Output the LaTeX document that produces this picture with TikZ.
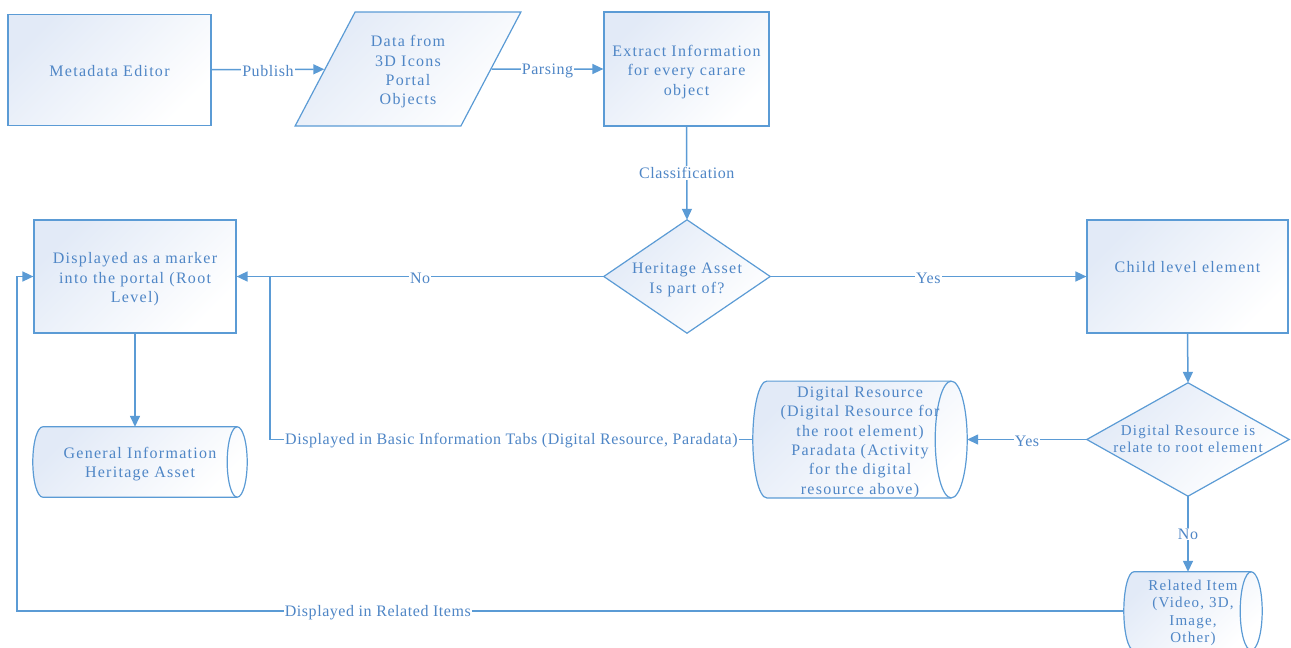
\documentclass[tikz,border=0pt]{standalone}
\usepackage{fontspec}
\setmainfont{Liberation Serif}
\newfontfamily\boxfont[LetterSpace=8]{Liberation Serif}
\newfontfamily\lblfont[LetterSpace=3.5]{Liberation Serif}
\usetikzlibrary{arrows.meta,shapes.geometric,calc,backgrounds}
\definecolor{ln}{RGB}{91,155,213}
\definecolor{tx}{RGB}{79,134,198}
\definecolor{sh}{RGB}{226,234,247}

% centred block of lines, shifted vertically without changing its reported size
\newcommand\lines[2][-3pt]{\raisebox{#1}[\height][\depth]{\begin{tabular}{@{}c@{}}#2\end{tabular}}}

\tikzset{
  shapefill/.style={draw=ln, line width=1.2pt, left color=sh, right color=white, shading angle=45},
  boxtext/.style={text=tx, font=\boxfont\fontsize{16}{19.4}\selectfont},
  smalltext/.style={text=tx, font=\boxfont\fontsize{15}{17.4}\selectfont},
  proc/.style={rectangle, shapefill, boxtext, inner sep=0pt},
  inout/.style={trapezium, shapefill, boxtext, inner sep=0pt,
    trapezium left angle=61.5, trapezium right angle=118.5, trapezium stretches=true},
  plain/.style={rectangle, inner sep=0pt},
  conn/.style={draw=ln, line width=1.5pt},
  arr/.style={conn, -{Triangle[length=11pt,width=10pt]}},
  lbl/.style={fill=white, text=tx, inner sep=1pt, font=\lblfont\fontsize{16}{18}\selectfont},
  hlbl/.style={lbl, yshift=-1.5pt},
}

% stored-data symbol drawn around a named node: #1 node, #2 left bulge, #3 right half-ellipse
\newcommand\storedata[3]{%
  \path[shapefill] let \p1=($(#1.north)-(#1.south)$), \n1={0.5*\y1} in
    ($(#1.north west)+(#2,0)$) -- ($(#1.north east)+(-#3,0)$)
    arc[start angle=90, end angle=-90, x radius=#3, y radius=\n1]
    -- ($(#1.south west)+(#2,0)$)
    arc[start angle=270, end angle=90, x radius=#2, y radius=\n1] -- cycle;
  \draw[draw=ln, line width=1.2pt] let \p1=($(#1.north)-(#1.south)$), \n1={0.5*\y1} in
    ($(#1.north east)+(-#3,0)$)
    arc[start angle=90, end angle=270, x radius=#3, y radius=\n1];
}
% decision symbol drawn on the four side anchors of a named node
\newcommand\decision[1]{%
  \path[shapefill] (#1.north) -- (#1.east) -- (#1.south) -- (#1.west) -- cycle;
}

\begin{document}
\begin{tikzpicture}[x=1pt, y=1pt]
\useasboundingbox (0,0) rectangle (1291,-648);

% top row
\node[proc, minimum width=203pt, minimum height=111pt] (me) at (109.5,-70) {\lines{Metadata Editor}};
\node[inout, minimum width=226pt, minimum height=114pt] (data) at (408,-69)
  {\lines{Data from\\3D Icons\\Portal\\Objects}};
\node[proc, minimum width=165pt, minimum height=114pt] (ex) at (686.5,-69)
  {\lines{Extract Information\\for every carare\\object}};

% middle row
\node[plain, boxtext, minimum width=166pt, minimum height=113pt] (d1) at (687,-276.5)
  {\lines{Heritage Asset\\Is part of?}};
\node[proc, minimum width=202pt, minimum height=113pt] (disp) at (135,-276.5)
  {\lines{Displayed as a marker\\into the portal (Root\\Level)}};
\node[proc, minimum width=201pt, minimum height=113pt] (child) at (1187.5,-276.5)
  {\lines[8pt]{Child level element}};

% lower part
\node[plain, smalltext, minimum width=202pt, minimum height=113pt] (d2) at (1188,-439.5)
  {\lines[-1pt]{Digital Resource is\\relate to root element}};
\node[plain, boxtext, minimum width=214pt, minimum height=70pt] (gi) at (140,-462)
  {\lines[-2pt]{General Information\\Heritage Asset}};
\node[plain, boxtext, minimum width=214pt, minimum height=113pt] (dr) at (860,-439.5)
  {\lines[-2.5pt]{Digital Resource\\(Digital Resource for\\the root element)\\Paradata (Activity\\for the digital\\resource above)}};
\node[plain, smalltext, minimum width=138pt, minimum height=78pt] (ri) at (1193,-611)
  {\lines[-2pt]{Related Item\\(Video, 3D,\\Image,\\Other)}};

\begin{scope}[on background layer]
  \decision{d1}
  \decision{d2}
  \storedata{gi}{10pt}{10pt}
  \storedata{dr}{14pt}{16pt}
  \storedata{ri}{10pt}{11pt}
\end{scope}

\coordinate (jn) at (270,-276.5);
\coordinate (lf) at (17,-611);

% connectors
\draw[arr] (me) -- node[hlbl]{Publish} (data);
\draw[arr] (data) -- node[hlbl]{Parsing} (ex);
\draw[arr] (ex.south) -- node[lbl]{Classification} (d1.north);
\draw[arr] (d1.east) -- node[hlbl]{Yes} (child.west);
\draw[arr] (d1.west) -- node[hlbl]{No} (disp.east);
\draw[arr] (disp.south) -- (disp.south |- gi.north);
\draw[arr] (child.south) -- (d2.north);
\draw[arr] (d2.west) -- node[hlbl]{Yes} (dr.east);
\draw[arr] (d2.south) -- node[lbl]{No} (d2.south |- ri.north);
\draw[conn] (dr.west) -| node[hlbl, pos=0.25]{Displayed in Basic Information Tabs (Digital Resource, Paradata)} (jn);
\draw[arr] (ri.west) -- node[hlbl, pos=0.674]{Displayed in Related Items} (lf) |- (disp.west);
\end{tikzpicture}
\end{document}
